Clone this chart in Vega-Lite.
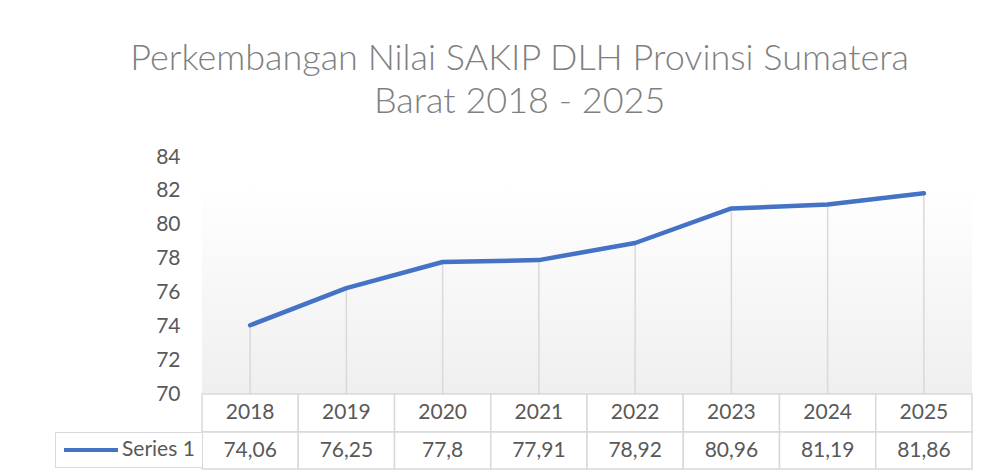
{
  "$schema": "https://vega.github.io/schema/vega-lite/v6.json",
  "padding": {"left": 54, "top": 41, "right": 15, "bottom": 5},
  "background": "white",
  "bounds": "flush",
  "spacing": 0,
  "title": {
    "text": ["Perkembangan Nilai SAKIP DLH Provinsi Sumatera", "Barat 2018 - 2025"],
    "fontSize": 36,
    "font": "Lato",
    "fontWeight": 300,
    "color": "#7f7f7f",
    "lineHeight": 43,
    "offset": 25,
    "dx": 6,
    "anchor": "middle"
  },
  "datasets": {
    "main": [
      {"year": "2018", "value": 74.06, "series": "Series 1"},
      {"year": "2019", "value": 76.25, "series": "Series 1"},
      {"year": "2020", "value": 77.8, "series": "Series 1"},
      {"year": "2021", "value": 77.91, "series": "Series 1"},
      {"year": "2022", "value": 78.92, "series": "Series 1"},
      {"year": "2023", "value": 80.96, "series": "Series 1"},
      {"year": "2024", "value": 81.19, "series": "Series 1"},
      {"year": "2025", "value": 81.86, "series": "Series 1"}
    ]
  },
  "resolve": {"scale": {"color": "independent"}, "legend": {"color": "independent"}},
  "vconcat": [
    {
      "width": 770,
      "height": 237,
      "encoding": {
        "x": {"field": "year", "type": "ordinal", "scale": {"type": "point", "padding": 0.5}, "axis": null},
        "y": {
          "field": "value", "type": "quantitative",
          "scale": {"domain": [70, 84], "nice": false, "zero": false},
          "axis": {
            "values": [70, 72, 74, 76, 78, 80, 82, 84],
            "domain": false, "ticks": false, "grid": false, "title": null,
            "labelOverlap": false, "labelFlush": false,
            "labelPadding": 22, "labelFontSize": 21, "labelColor": "#595959", "labelFont": "Lato"
          }
        }
      },
      "layer": [
        {
          "data": {"values": [{}]},
          "mark": {
            "type": "rect",
            "fill": {
              "gradient": "linear", "x1": 0, "y1": 0, "x2": 0, "y2": 1,
              "stops": [
                {"offset": 0, "color": "#ffffff"},
                {"offset": 0.12, "color": "#ffffff"},
                {"offset": 1, "color": "#efefef"}
              ]
            }
          },
          "encoding": {"x": null, "y": null}
        },
        {
          "data": {"name": "main"},
          "mark": {"type": "rule", "color": "#d9d9d9", "strokeWidth": 1.5},
          "encoding": {"y2": {"datum": 70}}
        },
        {
          "data": {"name": "main"},
          "mark": {"type": "line", "color": "#4472c4", "strokeWidth": 4.5, "strokeCap": "round", "strokeJoin": "round"}
        }
      ]
    },
    {
      "width": 770,
      "height": 38,
      "data": {"name": "main"},
      "layer": [
        {
          "mark": {"type": "rect", "fill": "white", "stroke": "#d9d9d9", "strokeWidth": 1.5},
          "encoding": {
            "x": {"field": "year", "type": "ordinal", "scale": {"type": "band", "paddingInner": 0, "paddingOuter": 0}, "axis": null}
          }
        },
        {
          "mark": {"type": "text", "fontSize": 21, "font": "Lato", "color": "#595959", "baseline": "middle"},
          "encoding": {
            "x": {"field": "year", "type": "ordinal"},
            "text": {"field": "year"}
          }
        }
      ]
    },
    {
      "width": 770,
      "height": 37,
      "data": {"name": "main"},
      "layer": [
        {
          "mark": {"type": "rect", "fill": "white", "stroke": "#d9d9d9", "strokeWidth": 1.5},
          "encoding": {
            "x": {"field": "year", "type": "ordinal", "scale": {"type": "band", "paddingInner": 0, "paddingOuter": 0}, "axis": null}
          }
        },
        {
          "mark": {"type": "text", "fontSize": 21, "font": "Lato", "baseline": "middle"},
          "encoding": {
            "x": {"field": "year", "type": "ordinal"},
            "text": {"field": "value", "type": "quantitative", "format": ".2~f"},
            "color": {
              "field": "series", "type": "nominal",
              "scale": {"range": ["#595959"]},
              "legend": {
                "title": null,
                "orient": "left",
                "offset": 0,
                "padding": 7,
                "strokeColor": "#d9d9d9",
                "fillColor": "white",
                "labelFontSize": 21,
                "labelFont": "Lato",
                "labelColor": "#595959",
                "labelOffset": 38,
                "symbolType": "M-1,0H5",
                "symbolSize": 324,
                "symbolStrokeWidth": 4,
                "symbolStrokeColor": "#4472c4",
                "encode": {
                  "symbols": {"update": {"stroke": {"value": "#4472c4"}, "strokeWidth": {"value": 4}, "fill": {"value": "transparent"}}}
                }
              }
            }
          }
        }
      ]
    }
  ],
  "config": {
    "view": {"stroke": null},
    "font": "Lato",
    "axis": {"labelOverlap": false},
    "locale": {
      "number": {"decimal": ",", "thousands": ".", "grouping": [3], "currency": ["", ""]}
    }
  }
}
